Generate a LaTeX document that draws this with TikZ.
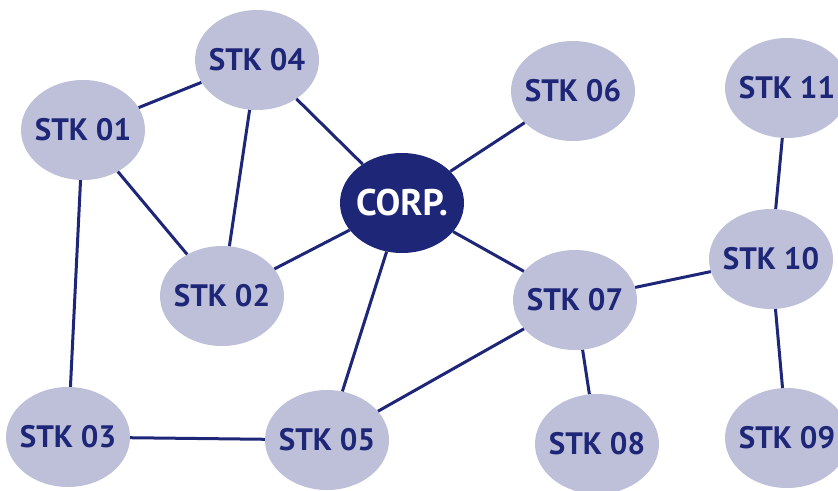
\documentclass[tikz,border=0pt]{standalone}
\usepackage{fontspec}
\setmainfont{PT Sans}
\usepackage{tikz}
\usetikzlibrary{shapes.geometric}

\definecolor{stkfill}{RGB}{190,192,218}
\definecolor{corpblue}{RGB}{30,38,120}

\tikzset{
  stk/.style={ellipse, fill=stkfill, text=corpblue, inner xsep=-12pt, inner ysep=0pt,
    minimum width=124pt, minimum height=100pt, font=\fontsize{31}{31}\selectfont\bfseries},
  corp/.style={stk, fill=corpblue, text=white, inner xsep=-20pt,
    font=\fontsize{37}{37}\selectfont\bfseries},
  link/.style={draw=corpblue, line width=3pt}
}

\begin{document}
\begin{tikzpicture}[x=1pt,y=-1pt]
    % page frame
    \useasboundingbox (0,0) rectangle (838,490);
    \clip (0,0) rectangle (838,490);

    % draw nodes
    \node[corp] (corp) at (402,203) {CORP.};
    \node[stk] (s01) at (83,130) {STK 01};
    \node[stk] (s02) at (222,296) {STK 02};
    \node[stk] (s03) at (68,437) {STK 03};
    \node[stk] (s04) at (257,60) {STK 04};
    \node[stk] (s05) at (327,440) {STK 05};
    \node[stk] (s06) at (573,91) {STK 06};
    \node[stk] (s07) at (575,300) {STK 07};
    \node[stk] (s08) at (597,444) {STK 08};
    \node[stk] (s09) at (787,438) {STK 09};
    \node[stk] (s10) at (771,259) {STK 10};
    \node[stk] (s11) at (787,88) {STK 11};

    % draw links
    \foreach \a/\b in {s01/s04,s04/s02,s04/corp,s01/s02,s01/s03,corp/s06,
                       corp/s02,corp/s05,corp/s07,s07/s10,s10/s11,s10/s09,
                       s07/s08,s07/s05,s03/s05}
    \draw[link] (\a) -- (\b);

\end{tikzpicture}
\end{document}
